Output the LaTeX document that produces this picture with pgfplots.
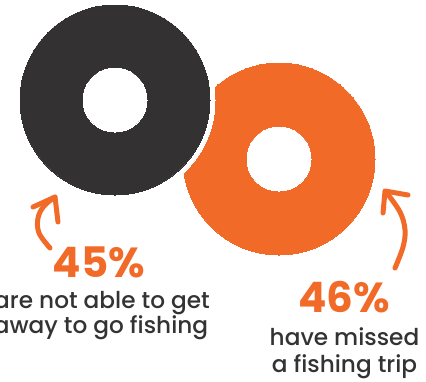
\documentclass[border=0pt]{standalone}
\usepackage{pgfplots}
\pgfplotsset{compat=1.18}
\usepackage{fontspec}
\setmainfont{Poppins}
\newfontfamily\medfont{Poppins Medium}
\definecolor{darkc}{HTML}{333132}
\definecolor{orangec}{HTML}{F26A27}
\definecolor{textc}{HTML}{343334}
\begin{document}
\begin{tikzpicture}
\begin{axis}[
  scale only axis, width=213pt, height=190.5pt,
  xmin=0, xmax=426, ymin=0, ymax=381, y dir=reverse,
  hide axis, clip=false,
]
% orange donut (46%)
\addplot[orangec, only marks, mark=*, mark size=48pt, mark options={draw=orangec, fill=orangec, line width=0pt}] coordinates {(279,159)};
% white gap ring around dark donut
\addplot[white, only marks, mark=*, mark size=50pt, mark options={draw=white, fill=white, line width=0pt}] coordinates {(115,100)};
% dark donut (45%)
\addplot[darkc, only marks, mark=*, mark size=47.5pt, mark options={draw=darkc, fill=darkc, line width=0pt}] coordinates {(115,100)};
% holes
\addplot[white, only marks, mark=*, mark size=16pt, mark options={draw=white, fill=white, line width=0pt}] coordinates {(115,100) (279,159)};
% left arrow
\addplot[orangec, line width=2.5pt, line cap=round, smooth, tension=0.6] coordinates {(50,248) (39,233) (38,218) (44,206) (55,197)};
\addplot[orangec, line width=2.5pt, line cap=round, line join=round] coordinates {(33,207) (55,197) (58,222)};
% right arrow
\addplot[orangec, line width=2.5pt, line cap=round, smooth, tension=0.6] coordinates {(395,268) (403,247) (405,230) (400,212) (386,192)};
\addplot[orangec, line width=2.5pt, line cap=round, line join=round] coordinates {(383,213) (385,191) (408,195)};
% texts
\node[anchor=base, font=\fontsize{21}{21}\selectfont\bfseries, text=orangec] at (axis cs:99,277) {45\%};
\node[anchor=base, font=\fontsize{21}{21}\selectfont\bfseries, text=orangec] at (axis cs:344,312) {46\%};
\node[anchor=base, font=\medfont\fontsize{11.6}{13}\selectfont, text=textc] at (axis cs:102,308) {are not able to get};
\node[anchor=base, font=\medfont\fontsize{11.6}{13}\selectfont, text=textc] at (axis cs:101,333) {away to go fishing};
\node[anchor=base, font=\medfont\fontsize{11.6}{13}\selectfont, text=textc] at (axis cs:344.5,345) {have missed};
\node[anchor=base, font=\medfont\fontsize{11.6}{13}\selectfont, text=textc] at (axis cs:344.5,372) {a fishing trip};
\end{axis}
\pgfresetboundingbox
\useasboundingbox (current axis.south west) rectangle (current axis.north east);
\end{tikzpicture}
\end{document}
